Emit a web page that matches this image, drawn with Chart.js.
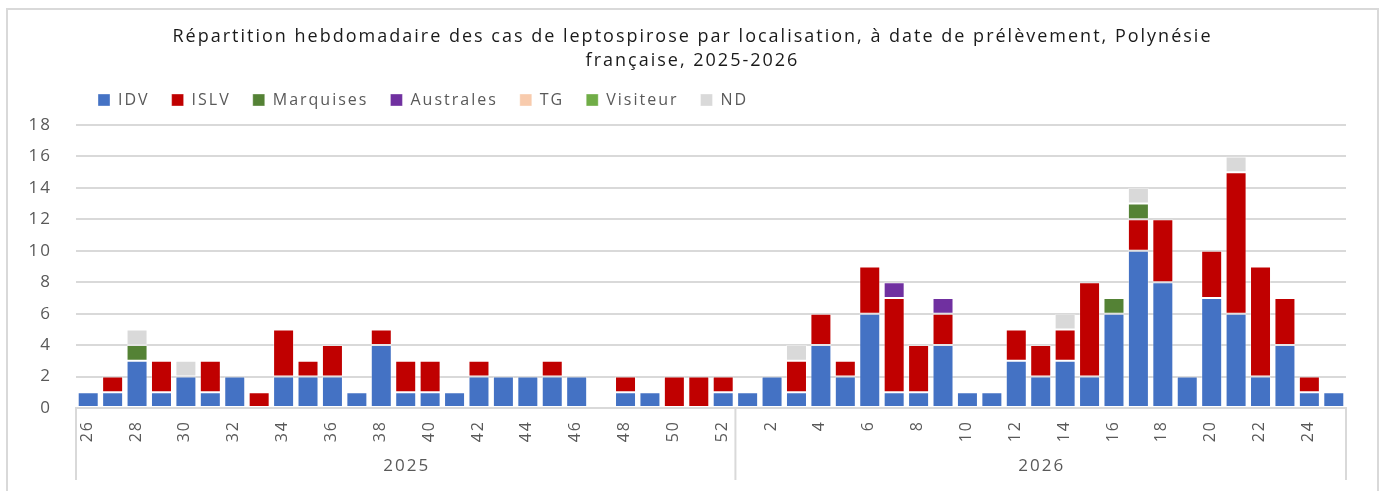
<!DOCTYPE html>
<html>
<head>
<meta charset="utf-8">
<script src="https://cdn.jsdelivr.net/npm/chart.js@4"></script>
<style>
  html, body { margin: 0; padding: 0; background: #fff; }
  #wrap { width: 1385px; height: 491px; }
</style>
</head>
<body>
<div id="wrap"><canvas id="leptoChart"></canvas></div>
<script>
// semaines 26-52 de 2025 puis 1-25 de 2026
var weeks = ['26','27','28','29','30','31','32','33','34','35','36','37','38','39','40','41','42','43','44','45','46','47','48','49','50','51','52',
             '1','2','3','4','5','6','7','8','9','10','11','12','13','14','15','16','17','18','19','20','21','22','23','24','25'];
var years = ['2025','2025','2025','2025','2025','2025','2025','2025','2025','2025','2025','2025','2025','2025','2025','2025','2025','2025','2025','2025','2025','2025','2025','2025','2025','2025','2025',
             '2026','2026','2026','2026','2026','2026','2026','2026','2026','2026','2026','2026','2026','2026','2026','2026','2026','2026','2026','2026','2026','2026','2026','2026','2026'];

var idv       = [1,1,3,1,2,1,2,0,2,2,2,1,4,1,1,1,2,2,2,2,2,0,1,1,0,0,1,
                 1,2,1,4,2,6,1,1,4,1,1,3,2,3,2,6,10,8,2,7,6,2,4,1,1];
var islv      = [0,1,0,2,0,2,0,1,3,1,2,0,1,2,2,0,1,0,0,1,0,0,1,0,2,2,1,
                 0,0,2,2,1,3,6,3,2,0,0,2,2,2,6,0,2,4,0,3,9,7,3,1,0];
var marquises = [0,0,1,0,0,0,0,0,0,0,0,0,0,0,0,0,0,0,0,0,0,0,0,0,0,0,0,
                 0,0,0,0,0,0,0,0,0,0,0,0,0,0,0,1,1,0,0,0,0,0,0,0,0];
var australes = [0,0,0,0,0,0,0,0,0,0,0,0,0,0,0,0,0,0,0,0,0,0,0,0,0,0,0,
                 0,0,0,0,0,0,1,0,1,0,0,0,0,0,0,0,0,0,0,0,0,0,0,0,0];
var tg        = [0,0,0,0,0,0,0,0,0,0,0,0,0,0,0,0,0,0,0,0,0,0,0,0,0,0,0,
                 0,0,0,0,0,0,0,0,0,0,0,0,0,0,0,0,0,0,0,0,0,0,0,0,0];
var visiteur  = [0,0,0,0,0,0,0,0,0,0,0,0,0,0,0,0,0,0,0,0,0,0,0,0,0,0,0,
                 0,0,0,0,0,0,0,0,0,0,0,0,0,0,0,0,0,0,0,0,0,0,0,0,0];
var nd        = [0,0,1,0,1,0,0,0,0,0,0,0,0,0,0,0,0,0,0,0,0,0,0,0,0,0,0,
                 0,0,1,0,0,0,0,0,0,0,0,0,0,1,0,0,1,0,0,0,1,0,0,0,0];

var yTicks = [0,2,4,6,8,10,12,14,16,18];

var FONT = 'Open Sans';
var GREY = '#595959';

// le texte de la figure d'origine est étiré : on espace les lettres
var spacing = {
  id: 'spacing',
  beforeUpdate: function(chart) { chart.ctx.letterSpacing = '2px'; },
  beforeDraw: function(chart) { chart.ctx.letterSpacing = '2px'; }
};

// étiquettes de semaines tournées, années et séparateurs
var axisLabels = {
  id: 'axisLabels',
  afterDraw: function(chart) {
    var ctx = chart.ctx;
    var xs = chart.scales.x;
    var area = chart.chartArea;
    var step = xs.width / weeks.length;
    ctx.save();
    ctx.fillStyle = GREY;
    ctx.font = '16px "' + FONT + '"';
    for (var i = 0; i < weeks.length; i++) {
      if (parseInt(weeks[i], 10) % 2 !== 0) continue;
      var px = xs.getPixelForValue(i);
      ctx.save();
      ctx.translate(px - 1, area.bottom + 12);
      ctx.rotate(-Math.PI / 2);
      ctx.textAlign = 'right';
      ctx.textBaseline = 'middle';
      ctx.fillText(weeks[i], 0, 0);
      ctx.restore();
    }
    // séparateurs entre années
    var bounds = [area.left];
    for (var j = 1; j < years.length; j++) {
      if (years[j] !== years[j - 1]) {
        bounds.push((xs.getPixelForValue(j - 1) + xs.getPixelForValue(j)) / 2);
      }
    }
    bounds.push(area.right);
    ctx.strokeStyle = '#d9d9d9';
    ctx.lineWidth = 2;
    bounds.forEach(function(b) {
      ctx.beginPath();
      ctx.moveTo(b, area.bottom);
      ctx.lineTo(b, area.bottom + 72);
      ctx.stroke();
    });
    ctx.font = '17px "' + FONT + '"';
    ctx.textAlign = 'center';
    ctx.textBaseline = 'middle';
    var start = 0;
    for (var k = 1; k <= years.length; k++) {
      if (k === years.length || years[k] !== years[start]) {
        var a = xs.getPixelForValue(start) - step / 2;
        var b2 = xs.getPixelForValue(k - 1) + step / 2;
        ctx.fillText(years[start], (a + b2) / 2 + 1, area.bottom + 58);
        start = k;
      }
    }
    // cadre extérieur
    ctx.strokeRect(7, 9, 1371, 500);
    ctx.restore();
  }
};

function ds(label, data, color) {
  return {
    label: label,
    data: data,
    xAxisID: 'x',
    yAxisID: 'y',
    backgroundColor: color,
    borderColor: 'rgba(255,255,255,0.35)',
    borderWidth: 1,
    borderSkipped: false,
    barPercentage: 0.86,
    categoryPercentage: 1
  };
}

var ctx = document.getElementById('leptoChart').getContext('2d');
var chart = new Chart(ctx, {
  type: 'bar',
  data: {
    labels: weeks,
    datasets: [
      ds('IDV', idv, '#4472C4'),
      ds('ISLV', islv, '#C00000'),
      ds('Marquises', marquises, '#548235'),
      ds('Australes', australes, '#7030A0'),
      ds('TG', tg, '#F8CBAD'),
      ds('Visiteur', visiteur, '#70AD47'),
      ds('ND', nd, '#D9D9D9')
    ]
  },
  options: {
    responsive: true,
    maintainAspectRatio: false,
    animation: false,
    layout: { padding: 0 },
    plugins: {
      title: {
        display: true,
        text: ['Répartition hebdomadaire des cas de leptospirose par localisation, à date de prélèvement, Polynésie',
               'française, 2025-2026'],
        color: '#1a1a1a',
        font: { family: FONT, size: 18, weight: 'normal', lineHeight: '24px' },
        padding: { top: 25, bottom: -3 }
      },
      legend: {
        position: 'top',
        align: 'start',
        fullSize: false,
        labels: {
          color: GREY,
          font: { family: FONT, size: 16 },
          boxWidth: 12,
          boxHeight: 12,
          padding: 22
        }
      },
      tooltip: { enabled: false }
    },
    scales: {
      x: {
        stacked: true,
        grid: { display: false },
        border: { display: true, color: '#d9d9d9', width: 2 },
        ticks: { display: false },
        afterFit: function(s) { s.height = 83; }
      },
      xTop: {
        type: 'category',
        position: 'top',
        labels: weeks,
        grid: { display: false },
        border: { display: false },
        ticks: { display: false },
        afterFit: function(s) { s.height = 7; }
      },
      y: {
        stacked: true,
        min: 0,
        max: 18,
        afterBuildTicks: function(s) { s.ticks = yTicks.map(function(v) { return { value: v }; }); },
        grid: { color: '#d9d9d9', lineWidth: 2, drawTicks: false },
        border: { display: false },
        ticks: { color: GREY, font: { family: FONT, size: 17 }, padding: 24 },
        afterFit: function(s) { s.width = 76; }
      },
      yRight: {
        type: 'linear',
        position: 'right',
        grid: { display: false },
        border: { display: false },
        ticks: { display: false },
        afterFit: function(s) { s.width = 39; }
      }
    }
  },
  plugins: [spacing, axisLabels]
});
</script>
</body>
</html>
